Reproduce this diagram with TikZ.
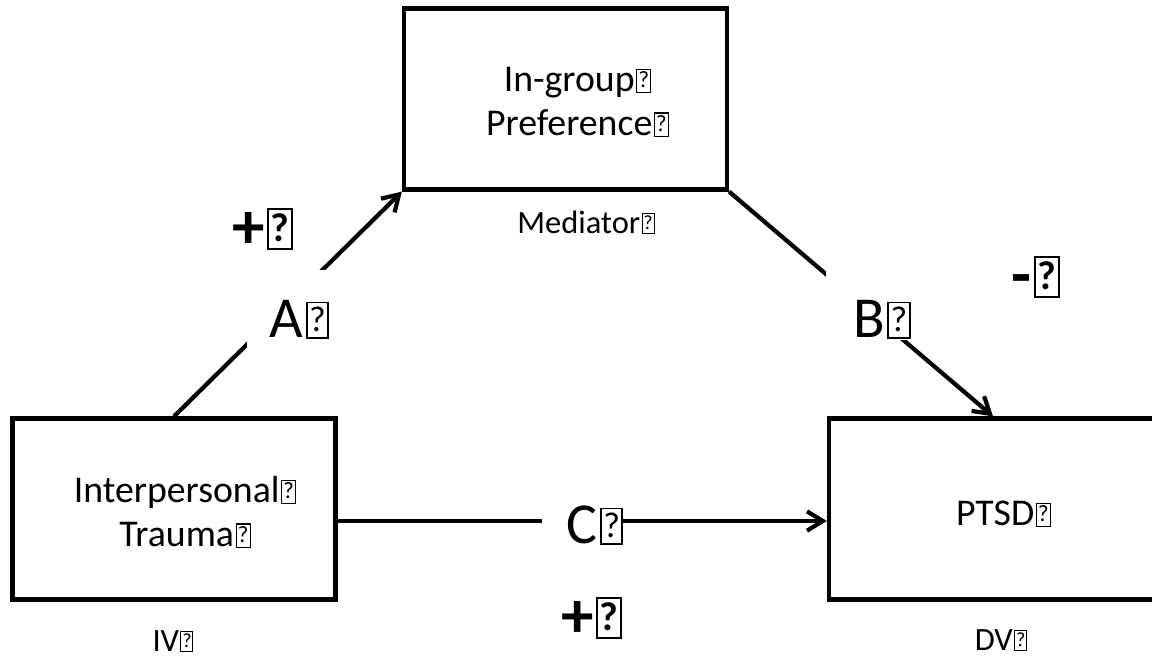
\documentclass[tikz,border=0pt]{standalone}
\usepackage{fontspec}
\setmainfont{Carlito}
\usepackage{graphicx}
\usepackage{tikz}
\usetikzlibrary{arrows.meta,positioning}

% one unit = one pixel of the 1152 x 660 sheet
\newlength\pix
\setlength\pix{0.02cm}

% boxed question mark left by the missing glyph
\newcommand\qbx{\kern0.04em{\fboxsep=0pt\fboxrule=0.03em\framebox[0.4em]{\rule{0pt}{0.58em}\raisebox{0.1em}{\scalebox{0.62}{?}}}}}

\tikzset{
	varbox/.style={draw, line width=2.4pt, minimum width=323\pix, minimum height=181\pix},
	boxtxt/.style={font=\fontsize{21.5}{25}\selectfont, align=center, inner sep=0pt},
	path/.style={line width=2.4pt, -{Straight Barb[length=9pt,width=11pt]}},
	pathlab/.style={fill=white, font=\fontsize{33}{40}\selectfont, inner ysep=0pt, anchor=base},
	sign/.style={font=\bfseries\fontsize{37}{44}\selectfont, inner sep=0pt, anchor=base},
	role/.style={font=\fontsize{18.5}{22}\selectfont, inner sep=0pt, anchor=base}
}

\begin{document}
\begin{tikzpicture}[x=1\pix, y=-1\pix]
		\useasboundingbox (0,0) rectangle (1152,660);
		% the three variables
		\node[varbox] (med) at (565.5,99) {};
		\node[varbox] (iv) at (174,509) {};
		\node[varbox, minimum width=328\pix] (dv) at (993,509) {};
		\node[boxtxt] (medtxt) at (577.5,102) {In-group\qbx\\Preference\qbx};
		\node[boxtxt] (ivtxt) at (185,512) {Interpersonal\qbx\\Trauma\qbx};
		\node[boxtxt] (dvtxt) at (1003.5,514) {PTSD\qbx};
		\node[role] (medrole) at (586,233) {Mediator\qbx};
		\node[role] (ivrole) at (173,651) {IV\qbx};
		\node[role] (dvrole) at (1001,650) {DV\qbx};
		% paths a, b and c
		\draw[path] (iv.north) -- (med.south west);
		\draw[path] (med.south east) -- (dv.north);
		\draw[path] ([yshift=-12\pix]iv.east) -- ([yshift=-12\pix]dv.west);
		\node[pathlab, inner xsep=23\pix, text height=67\pix, text depth=10\pix] (a) at (299.5,337) {A\qbx};
		\node[pathlab, inner xsep=27\pix, text height=67\pix, text depth=3\pix] (b) at (882,337) {B\qbx};
		\node[pathlab, inner xsep=0pt, text height=40\pix, text depth=0pt] (c) at (582.5,543) {\hspace*{25\pix}C\qbx};
		% signs of the effects
		\node[sign] (signa) at (262.5,248) {+\qbx};
		\node[sign] (signb) at (1035.5,296) {-\qbx};
		\node[sign] (signc) at (591.5,637) {+\qbx};
	\end{tikzpicture}
\end{document}
